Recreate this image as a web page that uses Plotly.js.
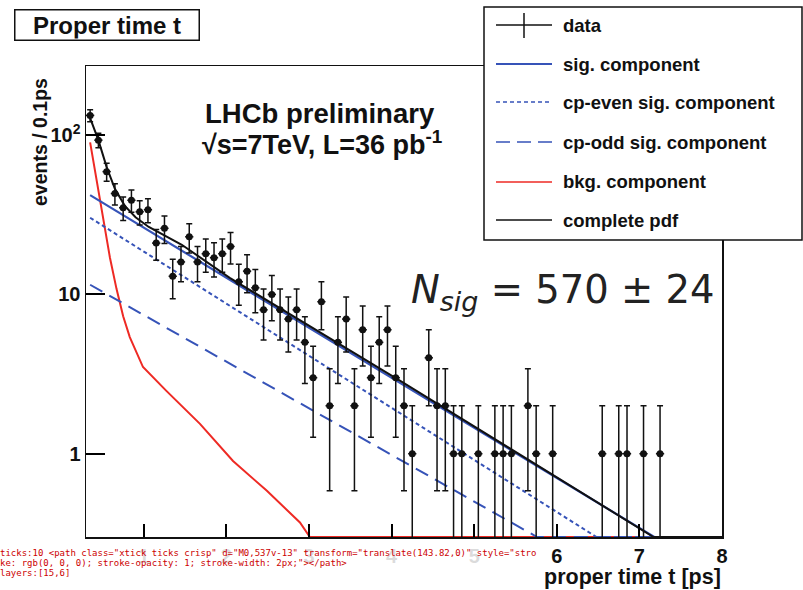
<!DOCTYPE html>
<html><head><meta charset="utf-8">
<script src="https://cdn.plot.ly/plotly-3.0.1.min.js"></script>
<style>html,body{margin:0;padding:0;background:#fff}
#diag{position:absolute;left:0;top:548px;width:540px;font:9px monospace;color:#c00;white-space:pre-wrap;word-break:break-all;z-index:10;background:rgba(255,255,255,0.85)}</style>
</head><body><div id="chart" style="width:803px;height:590px"></div><div id="diag"></div>
<script>
function show(m){ document.getElementById('diag').textContent += m + '\n'; }
window.addEventListener('error', e => show('ERR ' + e.message));
window.addEventListener('unhandledrejection', e => show('REJ ' + String(e.reason && e.reason.stack || e.reason).slice(0, 300)));

// ---- data ----
const binCenters = [0.35,0.45,0.55,0.65,0.75,0.85,0.95,1.05,1.15,1.25,
  1.35,1.45,1.55,1.65,1.75,1.85,1.95,2.05,2.15,2.25,
  2.35,2.45,2.55,2.65,2.75,2.85,2.95,3.05,3.15,3.25,
  3.35,3.45,3.55,3.65,3.75,3.85,3.95,4.05,4.15,4.25,
  4.45,4.55,4.65,4.75,4.85,5.05,5.25,5.35,5.45,5.65,5.75,5.95,
  6.55,6.75,6.85,7.05,7.25];
const counts = [133,93,59,43,35,39,33,34,21,26,
  13,16,23,16,18,17,18,20,12,14,
  11,8,10,8,7,8,5,3,9,2,
  5,7,2,6,3,5,6,3,2,1,
  4,2,2,1,1,1,1,1,1,2,1,1,
  1,1,1,1,1];
const binHalfWidth = 0.05;

const sigT = [0.35, 3.0, 7.18, 8.0];
const sigV = [42, 6.2, 0.3, 0.3];
const cpEvenT = [0.35, 6.48, 8.0];
const cpEvenV = [30.3, 0.3, 0.3];
const cpOddT = [0.35, 5.76, 8.0];
const cpOddV = [11.5, 0.3, 0.3];
const bkgT = [0.35,0.47,0.59,0.67,0.75,0.83,0.91,0.99,1.27,1.68,2.08,2.49,2.89,3.01,8.0];
const bkgV = [90,40,17,10.8,7.3,5.4,4.3,3.5,2.49,1.54,0.90,0.585,0.37,0.30,0.30];
const totT = [0.34,0.45,0.55,0.65,0.77,0.90,1.06,1.46,2.04,4.10,7.17,8.0];
const totV = [132,93,63,46,36,30.5,26.5,20.5,12.7,2.88,0.3,0.3];

const xTickVals = [1,2,3,4,5,6,7,8];
const xMinorVals = [0.4,0.6,0.8,1.2,1.4,1.6,1.8,2.2,2.4,2.6,2.8,3.2,3.4,3.6,3.8,
  4.2,4.4,4.6,4.8,5.2,5.4,5.6,5.8,6.2,6.4,6.6,6.8,7.2,7.4,7.6,7.8];
const yTickVals = [1,10,100];
const yTickText = ['1','10','10<sup>2</sup>'];
const yMinorVals = [0.3,0.4,0.5,0.6,0.7,0.8,0.9,2,3,4,5,6,7,8,9,20,30,40,50,60,70,80,90,200];

const legendLabels = ['data','sig. component','cp-even sig. component','cp-odd sig. component','bkg. component','complete pdf'];

// ---- styles ----
const BLUE = '#3653b8', RED = '#ee2a24', BLACK = '#111111';
const FONT = 'Liberation Sans, Arial, Helvetica, sans-serif';

const traces = [
  {x: bkgT, y: bkgV, mode: 'lines', line: {color: RED, width: 2}, hoverinfo: 'skip'},
  {x: cpOddT, y: cpOddV, mode: 'lines', line: {color: BLUE, width: 2, dash: '14px,8px'}, hoverinfo: 'skip'},
  {x: cpEvenT, y: cpEvenV, mode: 'lines', line: {color: BLUE, width: 2, dash: '4px,3px'}, hoverinfo: 'skip'},
  {x: sigT, y: sigV, mode: 'lines', line: {color: BLUE, width: 2.2}, hoverinfo: 'skip'},
  {x: totT, y: totV, mode: 'lines', line: {color: BLACK, width: 2}, hoverinfo: 'skip'},
  {x: binCenters, y: counts, mode: 'markers', marker: {color: BLACK, size: 7, symbol: 'circle'},
   error_y: {type: 'data', array: counts.map(Math.sqrt), color: BLACK, thickness: 1.5, width: 3},
   error_x: {type: 'constant', value: binHalfWidth, color: BLACK, thickness: 1.5, width: 0}}
];

// plot area in pixels: x 86..722, y 66..537
const L = 86, R = 722, T = 66, B = 537;
const W = R - L, H = B - T;
const px = v => (v - L) / W;
const py = v => (B - v) / H;

const shapes = [];
shapes.push({type: 'rect', xref: 'paper', yref: 'paper', x0: px(484), x1: px(802), y0: py(240), y1: py(7),
   line: {color: BLACK, width: 1.5}, fillcolor: 'white', layer: 'above'});
const legY = [25, 64, 102, 142, 182, 220];
const legStyles = [
  null,
  {color: BLUE, width: 2.2},
  {color: BLUE, width: 1.5, dash: '4px,3px'},
  {color: BLUE, width: 1.5, dash: '14px,7px'},
  {color: RED, width: 1.5},
  {color: BLACK, width: 1.5}
];
shapes.push({type: 'line', xref: 'paper', yref: 'paper', x0: px(496), x1: px(552), y0: py(legY[0]), y1: py(legY[0]), line: {color: BLACK, width: 1.5}});
shapes.push({type: 'line', xref: 'paper', yref: 'paper', x0: px(524), x1: px(524), y0: py(13), y1: py(38), line: {color: BLACK, width: 1.5}});
for (let i = 1; i < legY.length; i++) {
  shapes.push({type: 'line', xref: 'paper', yref: 'paper', x0: px(496), x1: px(552), y0: py(legY[i]), y1: py(legY[i]), line: legStyles[i]});
}

const annotations = [];
legendLabels.forEach((t, i) => annotations.push({
  xref: 'paper', yref: 'paper', x: px(561), y: py(legY[i]), xanchor: 'left', yanchor: 'middle',
  text: t, showarrow: false, font: {family: FONT, size: 18.5, weight: 'bold', color: BLACK}
}));
annotations.push({xref: 'paper', yref: 'paper', x: px(14), y: py(9), xanchor: 'left', yanchor: 'top',
  text: 'Proper time t', showarrow: false, width: 181, height: 27, borderpad: 1, borderwidth: 1.5,
  bordercolor: BLACK, bgcolor: 'white', font: {family: FONT, size: 24, weight: 'bold', color: BLACK}});
annotations.push({xref: 'paper', yref: 'paper', x: px(320), y: py(113), xanchor: 'center', yanchor: 'middle',
  text: 'LHCb preliminary', showarrow: false, font: {family: FONT, size: 27.5, weight: 'bold', color: BLACK}});
annotations.push({xref: 'paper', yref: 'paper', x: px(322), y: py(143), xanchor: 'center', yanchor: 'middle',
  text: '√s=7TeV, L=36 pb<sup>-1</sup>', showarrow: false, font: {family: FONT, size: 27, weight: 'bold', color: BLACK}});
annotations.push({xref: 'paper', yref: 'paper', x: px(409), y: py(292), xanchor: 'left', yanchor: 'middle',
  text: '<i>N</i><sub><i>sig</i></sub> = 570 ± 24', showarrow: false, font: {family: 'DejaVu Sans, sans-serif', size: 38.5, color: '#222'}});
annotations.push({xref: 'paper', yref: 'paper', x: px(40), y: py(142), xanchor: 'center', yanchor: 'middle', textangle: -90,
  text: 'events / 0.1ps', showarrow: false, font: {family: FONT, size: 19.5, weight: 'bold', color: BLACK}});
annotations.push({xref: 'paper', yref: 'paper', x: px(723), y: py(577), xanchor: 'right', yanchor: 'middle',
  text: 'proper time t [ps]', showarrow: false, font: {family: FONT, size: 21.5, weight: 'bold', color: BLACK}});

const tickFont = {family: FONT, size: 20, weight: 'bold', color: BLACK};
const layout = {
  width: 803, height: 590, autosize: false,
  margin: {l: L, r: 803 - R, t: T, b: 590 - B},
  paper_bgcolor: 'white', plot_bgcolor: 'white', showlegend: false,
  xaxis: {range: [0.3, 8], tickmode: 'array', tickvals: xTickVals, ticks: 'inside', ticklen: 13, tickwidth: 2,
    tickcolor: 'black', showline: true, mirror: true, linecolor: BLACK, linewidth: 1.5, showgrid: false, zeroline: false,
    tickfont: tickFont},
  yaxis: {type: 'log', range: [Math.log10(0.3), 2.434], tickmode: 'array', tickvals: yTickVals, ticktext: yTickText,
    ticks: 'inside', ticklen: 19, tickwidth: 2, tickcolor: 'black', showline: true, mirror: true, linecolor: BLACK,
    linewidth: 1.5, showgrid: false, zeroline: false, tickfont: tickFont},
  shapes: shapes,
  annotations: annotations
};

try {
  Plotly.newPlot('chart', traces, layout, {staticPlot: true, displayModeBar: false}).then(gd => {
    const tk = gd.querySelectorAll('path.xtick, path.ytick');
    show('ticks:' + tk.length + ' ' + (tk[0] ? tk[0].outerHTML.slice(0, 220) : 'none'));
    const cls = Array.from(gd.querySelectorAll('.xaxislayer-above, .yaxislayer-above')).map(g => g.children.length);
    show('layers:' + JSON.stringify(cls));
  }).catch(e => show('CATCH ' + String(e && e.stack || e).slice(0, 300)));
} catch (e) { show('SYNC ' + String(e && e.stack || e).slice(0, 300)); }
</script>
</body></html>
